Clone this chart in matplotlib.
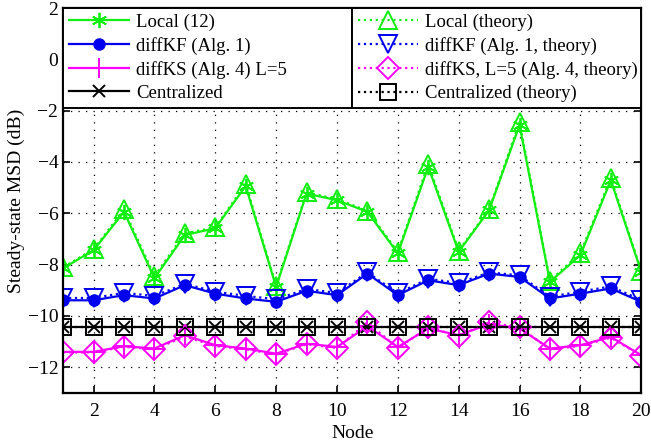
import matplotlib
matplotlib.use("Agg")
import matplotlib.pyplot as plt

nodes = list(range(1, 21))

local_sim = [-8.14, -7.44, -5.94, -8.53, -6.85, -6.58, -4.94, -8.87, -5.23, -5.49,
             -5.94, -7.56, -4.19, -7.50, -5.88, -2.56, -8.67, -7.63, -4.71, -8.28]
local_th = [-8.10, -7.40, -5.85, -8.45, -6.78, -6.55, -4.85, -8.82, -5.18, -5.45,
            -5.90, -7.50, -4.08, -7.45, -5.85, -2.45, -8.62, -7.55, -4.62, -8.25]
kf_sim = [-9.39, -9.39, -9.19, -9.32, -8.80, -9.13, -9.32, -9.45, -9.02, -9.19,
          -8.35, -9.19, -8.61, -8.80, -8.35, -8.48, -9.32, -9.13, -8.93, -9.45]
kf_th = [-9.30, -9.30, -9.10, -9.22, -8.75, -9.05, -9.22, -9.35, -8.95, -9.10,
         -8.30, -9.12, -8.55, -8.72, -8.30, -8.42, -9.25, -9.05, -8.85, -9.38]
ks_sim = [-11.40, -11.40, -11.18, -11.27, -10.75, -11.14, -11.27, -11.47, -11.08, -11.21,
          -10.40, -11.21, -10.49, -10.75, -10.32, -10.49, -11.27, -11.14, -10.82, -11.53]
ks_th = [-11.42, -11.42, -11.20, -11.30, -10.80, -11.17, -11.30, -11.50, -11.10, -11.25,
         -10.25, -11.25, -10.45, -10.78, -10.25, -10.45, -11.30, -11.17, -10.85, -11.55]
cent_sim = [-10.45] * 20
cent_th = [-10.45] * 20

GREEN = "#11ee11"
BLUE = "#0000ee"
MAG = "#ff00ff"

plt.rcParams["font.family"] = ["Liberation Serif", "DejaVu Serif"]
plt.rcParams["font.size"] = 14

fig = plt.figure(figsize=(6.51, 4.46), dpi=100)
ax = fig.add_axes([0.097, 0.119, 0.888, 0.863])

lw = 1.6
# simulated curves
h1, = ax.plot(nodes, local_sim, "-", color=GREEN, lw=lw, marker=(6, 2, 0), ms=11, mew=1.3,
              label="Local (12)")
h2, = ax.plot(nodes, kf_sim, "-", color=BLUE, lw=lw, marker="o", ms=8, label="diffKF (Alg. 1)")
h3, = ax.plot(nodes, ks_sim, "-", color=MAG, lw=lw, marker="+", ms=14, mew=1.4,
              label="diffKS (Alg. 4) L=5")
h4, = ax.plot(nodes, cent_sim, "-", color="black", lw=lw, marker="x", ms=9, mew=1.4,
              label="Centralized")
# theory curves
h5, = ax.plot(nodes, local_th, ":", color=GREEN, lw=lw, marker="^", ms=13, mew=1.4,
              mfc="none", label="Local (theory)")
h6, = ax.plot(nodes, kf_th, ":", color=BLUE, lw=lw, marker="v", ms=13, mew=1.4,
              mfc="none", label="diffKF (Alg. 1, theory)")
h7, = ax.plot(nodes, ks_th, ":", color=MAG, lw=lw, marker="D", ms=11, mew=1.4,
              mfc="none", label="diffKS, L=5 (Alg. 4, theory)")
h8, = ax.plot(nodes, cent_th, ":", color="black", lw=lw, marker="s", ms=12, mew=1.4,
              mfc="none", label="Centralized (theory)")

ax.set_xlim(1, 20)
ax.set_ylim(-13, 2)
ax.set_xticks(range(2, 21, 2))
ax.set_yticks(range(-12, 3, 2))
ax.grid(True, color="black", linestyle=(0, (1, 5)), linewidth=0.9)
ax.tick_params(direction="in", length=5, width=1.2, right=True, top=True, labelsize=14)
ax.tick_params(axis="x", pad=7)
for sp in ax.spines.values():
    sp.set_linewidth(1.6)
ax.set_xlabel("Node", fontsize=14, labelpad=4)
ax.set_ylabel("Steady-state MSD (dB)", fontsize=14, labelpad=2)

leg_kw = dict(loc="upper left", mode="expand", borderaxespad=0, fancybox=False,
              edgecolor="black", framealpha=1, fontsize=13.5, handlelength=3.2,
              labelspacing=0.32, borderpad=0.3, handletextpad=0.4)
leg1 = ax.legend(handles=[h1, h2, h3, h4], bbox_to_anchor=(0, 0.7333, 0.5, 0.2667), **leg_kw)
leg1.get_frame().set_linewidth(1.4)
ax.add_artist(leg1)
leg2 = ax.legend(handles=[h5, h6, h7, h8], bbox_to_anchor=(0.5, 0.7333, 0.5, 0.2667), **leg_kw)
leg2.get_frame().set_linewidth(1.4)

fig.savefig("out.png", dpi=100)
